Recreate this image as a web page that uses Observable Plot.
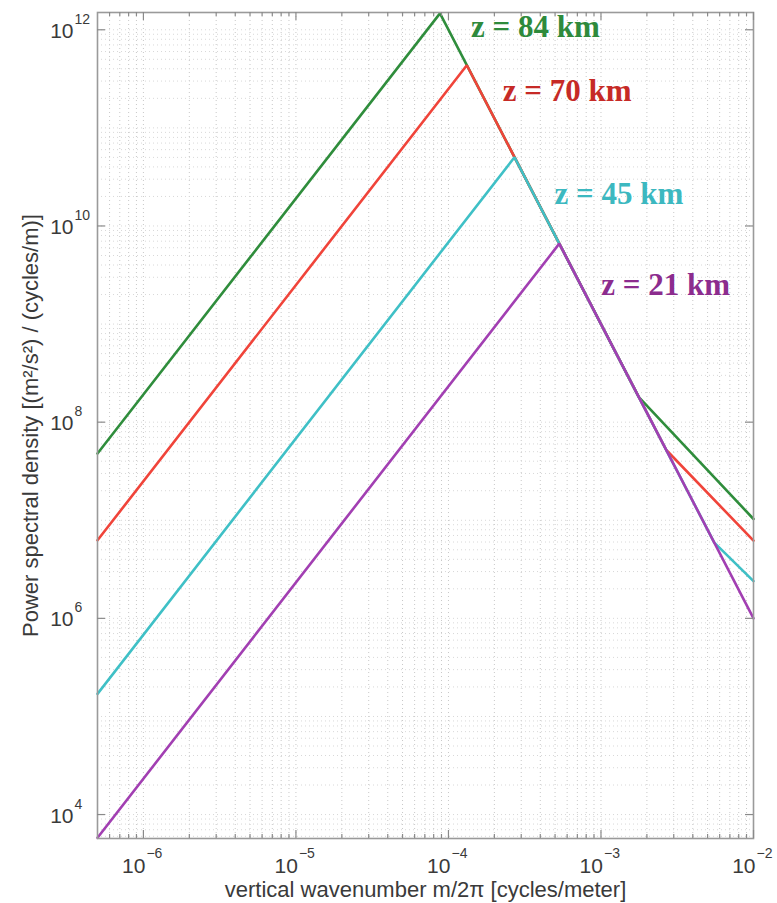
<!DOCTYPE html>
<html>
<head>
<meta charset="utf-8">
<script src="https://cdn.jsdelivr.net/npm/d3@7"></script>
<script src="https://cdn.jsdelivr.net/npm/@observablehq/plot@0.6"></script>
<style>
  html, body { margin: 0; padding: 0; background: #fff; }
  #chart { width: 777px; height: 903px; }
</style>
</head>
<body>
<div id="chart"></div>
<script>
// ---- data ----
const seriesNames = ["z = 84 km", "z = 70 km", "z = 45 km", "z = 21 km"];
const lineColors = ["#2f8d3c", "#f0443a", "#3fc0c6", "#a23fb2"];
const labelColors = ["#2e8a3c", "#c62a26", "#3cb8c0", "#8c2c8e"];

// vertical wavenumber m/2π [cycles/meter]
const wavenumber84 = [5e-7, 8.8e-5, 1.77e-3, 1e-2];
const psd84 = [4.8e7, 1.47e12, 1.8e8, 1.03e7];
const wavenumber70 = [5e-7, 1.32e-4, 2.68e-3, 1e-2];
const psd70 = [6.25e6, 4.35e11, 5.2e7, 6.2e6];
const wavenumber45 = [5e-7, 2.71e-4, 5.53e-3, 1e-2];
const psd45 = [1.7e5, 5.02e10, 5.91e6, 2.4e6];
const wavenumber21 = [5e-7, 5.33e-4, 1e-2];
const psd21 = [5.8e3, 6.6e9, 1.0e6];

// tick labels (powers of ten)
const xTickExponents = [-6, -5, -4, -3, -2];
const yTickExponents = [4, 6, 8, 10, 12];

const xLabel = "vertical wavenumber m/2\u03C0 [cycles/meter]";
const yLabel = "Power spectral density [(m\u00B2/s\u00B2) / (cycles/m)]";

// ---- build table ----
const xs = [wavenumber84, wavenumber70, wavenumber45, wavenumber21];
const ys = [psd84, psd70, psd45, psd21];
const rows = [];
seriesNames.forEach((s, k) => xs[k].forEach((x, i) => rows.push({series: s, x, y: ys[k][i]})));
const peaks = seriesNames.map((s, k) => {
  let j = 0; ys[k].forEach((v, i) => { if (v > ys[k][j]) j = i; });
  return {series: s, x: xs[k][j], y: ys[k][j], k};
});

const xDomain = [5e-7, 1e-2];
const yDomain = [5.7e3, 1.5e12];
const xMinor = d3.scaleLog().domain(xDomain).ticks().filter(v => v > xDomain[0] && v < xDomain[1]);
const yMinor = d3.scaleLog().domain(yDomain).ticks().filter(v => v > yDomain[0] && v < yDomain[1]);
const xMajor = xTickExponents.map(e => Math.pow(10, e));
const yMajor = yTickExponents.map(e => Math.pow(10, e));
const xMinorOnly = xMinor.filter(v => !xMajor.some(m => Math.abs(m - v) / m < 1e-9));

const sup = n => String(n).replace("-", "\u2212");
const tickColor = "#8a8a8a";
const textColor = "#3a3a3a";

// label offsets relative to each peak (pixels)
const labelOffsets = [[31, 24], [36, 36], [40, 47], [42, 51]];

const chart = Plot.plot({
  width: 777,
  height: 903,
  marginLeft: 97,
  marginRight: 24,
  marginTop: 12,
  marginBottom: 65,
  x: {type: "log", domain: xDomain, axis: null},
  y: {type: "log", domain: yDomain, axis: null},
  color: {domain: seriesNames, range: lineColors},
  style: {fontFamily: "'Liberation Sans', Arial, sans-serif", background: "#fff", overflow: "visible"},
  marks: [
    // dotted grid
    Plot.ruleX(xMinor, {stroke: "#c8c8c8", strokeWidth: 1, strokeDasharray: "1,3"}),
    Plot.ruleY(yMinor, {stroke: "#d8d8d8", strokeWidth: 1, strokeDasharray: "1,3"}),
    // series lines
    Plot.line(rows, {x: "x", y: "y", z: "series", stroke: "series", strokeWidth: 2.6, strokeLinejoin: "miter"}),
    // frame
    Plot.frame({stroke: "#9a9a9a", strokeWidth: 1.6}),
    // inward ticks: bottom & top (x)
    Plot.ruleX(xMajor, {y1: yDomain[0], y2: yDomain[0], insetTop: 0, insetBottom: 8, stroke: tickColor, strokeWidth: 1.2}),
    Plot.ruleX(xMinorOnly, {y1: yDomain[0], y2: yDomain[0], insetTop: 0, insetBottom: 4, stroke: tickColor, strokeWidth: 1.2}),
    Plot.ruleX(xMajor, {y1: yDomain[1], y2: yDomain[1], insetTop: 0, insetBottom: -8, stroke: tickColor, strokeWidth: 1.2}),
    Plot.ruleX(xMinorOnly, {y1: yDomain[1], y2: yDomain[1], insetTop: 0, insetBottom: -4, stroke: tickColor, strokeWidth: 1.2}),
    // inward ticks: left & right (y)
    Plot.ruleY(yMajor, {x1: xDomain[0], x2: xDomain[0], insetLeft: 0, insetRight: -8, stroke: tickColor, strokeWidth: 1.2}),
    Plot.ruleY(yMajor, {x1: xDomain[1], x2: xDomain[1], insetLeft: 0, insetRight: 8, stroke: tickColor, strokeWidth: 1.2}),
    // x tick labels
    Plot.text(xMajor, {x: d => d, frameAnchor: "bottom", text: () => "10", textAnchor: "end", lineAnchor: "bottom", dx: 2, dy: 34, fontSize: 21, fill: textColor}),
    Plot.text(xTickExponents, {x: e => Math.pow(10, e), frameAnchor: "bottom", text: e => sup(e), textAnchor: "start", lineAnchor: "bottom", dx: 3, dy: 19, fontSize: 14, fill: textColor}),
    // y tick labels
    Plot.text(yMajor, {y: d => d, frameAnchor: "left", text: () => "10", textAnchor: "end", lineAnchor: "bottom", dx: -24, dy: 8, fontSize: 21, fill: textColor}),
    Plot.text(yTickExponents, {y: e => Math.pow(10, e), frameAnchor: "left", text: e => sup(e), textAnchor: "start", lineAnchor: "bottom", dx: -23, dy: -6, fontSize: 14, fill: textColor}),
    // axis titles
    Plot.text([xLabel], {frameAnchor: "bottom", text: d => d, textAnchor: "middle", lineAnchor: "bottom", dy: 58, fontSize: 22, fill: textColor}),
    Plot.text([yLabel], {frameAnchor: "left", text: d => d, rotate: -90, textAnchor: "middle", lineAnchor: "middle", dx: -67, fontSize: 22, fill: textColor}),
    // series labels
    ...peaks.map((p, i) => Plot.text([p], {
      x: "x", y: "y", text: "series", textAnchor: "start", lineAnchor: "bottom",
      dx: labelOffsets[i][0], dy: labelOffsets[i][1],
      fontFamily: "'Liberation Serif', 'Times New Roman', serif", fontWeight: "bold", fontSize: 31,
      fill: labelColors[i]
    }))
  ]
});
document.getElementById("chart").appendChild(chart);
</script>
</body>
</html>
